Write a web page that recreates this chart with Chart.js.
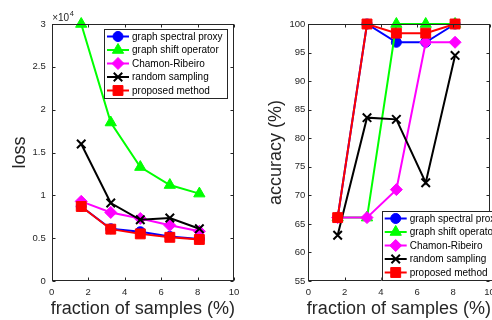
<!DOCTYPE html>
<html>
<head>
<meta charset="utf-8">
<script src="https://cdn.jsdelivr.net/npm/chart.js@4.4.1/dist/chart.umd.min.js"></script>
<style>
  html, body { margin: 0; padding: 0; background: #fff; overflow: hidden; width: 492px; height: 320px; }
  canvas { position: absolute; top: 0; }
  #loss { left: 0; }
  #acc { left: 246px; }
</style>
</head>
<body>
<canvas id="loss" width="246" height="320"></canvas>
<canvas id="acc" width="270" height="320"></canvas>
<script>
// fraction of samples (%)
const samples = [1.62, 3.24, 4.86, 6.48, 8.1]

const methods = ["graph spectral proxy", "graph shift operator", "Chamon-Ribeiro", "random sampling", "proposed method"]

// loss, in units of 10^4
const lossSpectral = [0.87, 0.61, 0.575, 0.52, 0.49]
const lossShift = [3.0, 1.85, 1.33, 1.12, 1.02]
const lossChamon = [0.93, 0.80, 0.73, 0.65, 0.58]
const lossRandom = [1.6, 0.91, 0.715, 0.735, 0.61]
const lossProposed = [0.87, 0.605, 0.55, 0.51, 0.485]

// accuracy (%)
const accSpectral = [66.1, 100, 96.8, 96.8, 100]
const accShift = [66.1, 66.1, 100, 100, 100]
const accChamon = [66.1, 66.1, 71, 96.8, 96.8]
const accRandom = [63, 83.6, 83.3, 72.2, 94.5]
const accProposed = [66.1, 100, 98.4, 98.4, 100]

const xTicks = [0, 2, 4, 6, 8, 10]
const lossTicks = [0, 0.5, 1, 1.5, 2, 2.5, 3]
const accTicks = [55, 60, 65, 70, 75, 80, 85, 90, 95, 100]

const FONT = "'Liberation Sans', Arial, Helvetica, sans-serif"
const AXIS = "#262626"

const styles = [
  { color: "#0000ff", pointStyle: "circle", radius: 5, order: 4 },
  { color: "#00ff00", pointStyle: "triangle", radius: 6.5, order: 3 },
  { color: "#ff00ff", pointStyle: "rectRot", radius: 6, order: 2 },
  { color: "#000000", pointStyle: "crossRot", radius: 6, order: 1 },
  { color: "#ff0000", pointStyle: "rect", radius: 7, order: 0 }
]

function datasets(series) {
  return series.map((values, i) => {
    const s = styles[i]
    return {
      label: methods[i],
      data: values.map((v, j) => ({ x: samples[j], y: v })),
      borderColor: s.color,
      backgroundColor: s.color,
      borderWidth: 2,
      pointStyle: s.pointStyle,
      pointRadius: s.radius,
      pointBorderWidth: s.pointStyle === "crossRot" ? 2 : 1,
      pointBackgroundColor: s.color,
      pointBorderColor: s.color,
      order: s.order,
      clip: false,
      tension: 0
    }
  })
}

// MATLAB-like frame: box, inward ticks on all sides, titles, legend
const matlabAxes = {
  id: "matlabAxes",
  afterDraw(chart, args, opts) {
    const { ctx, chartArea: a } = chart
    const xs = chart.scales.x
    const ys = chart.scales.y
    ctx.save()
    ctx.strokeStyle = AXIS
    ctx.lineWidth = 1
    const L = Math.round(a.left) + 0.5, R = Math.round(a.right) - 0.5
    const T = Math.round(a.top) + 0.5, B = Math.round(a.bottom) - 0.5
    ctx.strokeRect(L, T, R - L, B - T)
    const tl = 3
    ctx.beginPath()
    xs.ticks.forEach(t => {
      const px = Math.round(xs.getPixelForValue(t.value)) + 0.5
      ctx.moveTo(px, B); ctx.lineTo(px, B - tl)
      ctx.moveTo(px, T); ctx.lineTo(px, T + tl)
    })
    ys.ticks.forEach(t => {
      const py = Math.round(ys.getPixelForValue(t.value)) + 0.5
      ctx.moveTo(L, py); ctx.lineTo(L + tl, py)
      ctx.moveTo(R, py); ctx.lineTo(R - tl, py)
    })
    ctx.stroke()

    // axis titles
    ctx.fillStyle = AXIS
    ctx.font = "18px " + FONT
    ctx.textAlign = "center"
    ctx.textBaseline = "alphabetic"
    ctx.fillText(opts.xTitle, (a.left + a.right) / 2, 314)
    ctx.save()
    ctx.translate(a.left - 27, (a.top + a.bottom) / 2)
    ctx.rotate(-Math.PI / 2)
    ctx.fillText(opts.yTitle, 0, 0)
    ctx.restore()

    if (opts.exponent) {
      ctx.font = "10px " + FONT
      ctx.textAlign = "left"
      ctx.textBaseline = "middle"
      const base = "\u00d710"
      ctx.fillText(base, a.left + 0.5, a.top - 6)
      const bw = ctx.measureText(base).width
      ctx.font = "7.5px " + FONT
      ctx.fillText("4", a.left + 1 + bw, a.top - 10)
    }

    // legend
    const lg = opts.legend
    const w = 123, h = 70, rowH = 13.5
    ctx.fillStyle = "#ffffff"
    ctx.fillRect(lg.x, lg.y, w, h)
    ctx.strokeStyle = AXIS
    ctx.lineWidth = 1
    ctx.strokeRect(Math.round(lg.x) + 0.5, Math.round(lg.y) + 0.5, w, h - 1)
    ctx.font = "10px " + FONT
    ctx.textAlign = "left"
    ctx.textBaseline = "middle"
    methods.forEach((name, i) => {
      const s = styles[i]
      const cy = lg.y + 7.5 + i * rowH
      ctx.strokeStyle = s.color
      ctx.fillStyle = s.color
      ctx.lineWidth = 2
      ctx.beginPath()
      ctx.moveTo(lg.x + 3, cy)
      ctx.lineTo(lg.x + 25, cy)
      ctx.stroke()
      ctx.lineWidth = s.pointStyle === "crossRot" ? 2 : 1
      Chart.helpers.drawPoint(ctx, {
        pointStyle: s.pointStyle,
        radius: s.radius,
        rotation: 0,
        borderWidth: ctx.lineWidth
      }, lg.x + 14, cy)
      ctx.fillStyle = "#000000"
      ctx.fillText(name, lg.x + 28, cy + 0.5)
    })
    ctx.restore()
  }
}

function makeChart(canvas, series, yMin, yMax, yTicks, yWidth, padRight, plugOpts) {
  return new Chart(canvas, {
    type: "line",
    data: { datasets: datasets(series) },
    options: {
      responsive: false,
      animation: false,
      devicePixelRatio: 1,
      layout: { padding: { left: 0, right: padRight, top: 24, bottom: 0 } },
      plugins: {
        legend: { display: false },
        tooltip: { enabled: false },
        matlabAxes: plugOpts
      },
      scales: {
        x: {
          type: "linear",
          min: 0,
          max: 10,
          grid: { display: false, drawTicks: false, tickLength: 0 },
          border: { display: false },
          afterBuildTicks: s => { s.ticks = xTicks.map(v => ({ value: v })) },
          ticks: { padding: 6, color: AXIS, font: { family: FONT, size: 9.5 }, callback: v => String(v), maxRotation: 0 },
          afterFit: s => { s.height = 39 }
        },
        y: {
          type: "linear",
          min: yMin,
          max: yMax,
          grid: { display: false, drawTicks: false, tickLength: 0 },
          border: { display: false },
          afterBuildTicks: s => { s.ticks = yTicks.map(v => ({ value: v })) },
          ticks: { padding: plugOpts.tickPad, color: AXIS, font: { family: FONT, size: 9.5 }, callback: v => String(v) },
          afterFit: s => { s.width = yWidth }
        }
      }
    },
    plugins: [matlabAxes]
  })
}

makeChart(document.getElementById("loss"),
  [lossSpectral, lossShift, lossChamon, lossRandom, lossProposed],
  0, 3, lossTicks, 51.7, 12,
  { xTitle: "fraction of samples (%)", yTitle: "loss", exponent: true, tickPad: 6, legend: { x: 104, y: 29 } })

makeChart(document.getElementById("acc"),
  [accSpectral, accShift, accChamon, accRandom, accProposed],
  55, 100, accTicks, 62.3, 270 - 243.5,
  { xTitle: "fraction of samples (%)", yTitle: "accuracy (%)", exponent: false, tickPad: 3, legend: { x: 135.7, y: 211 } })
</script>
</body>
</html>
